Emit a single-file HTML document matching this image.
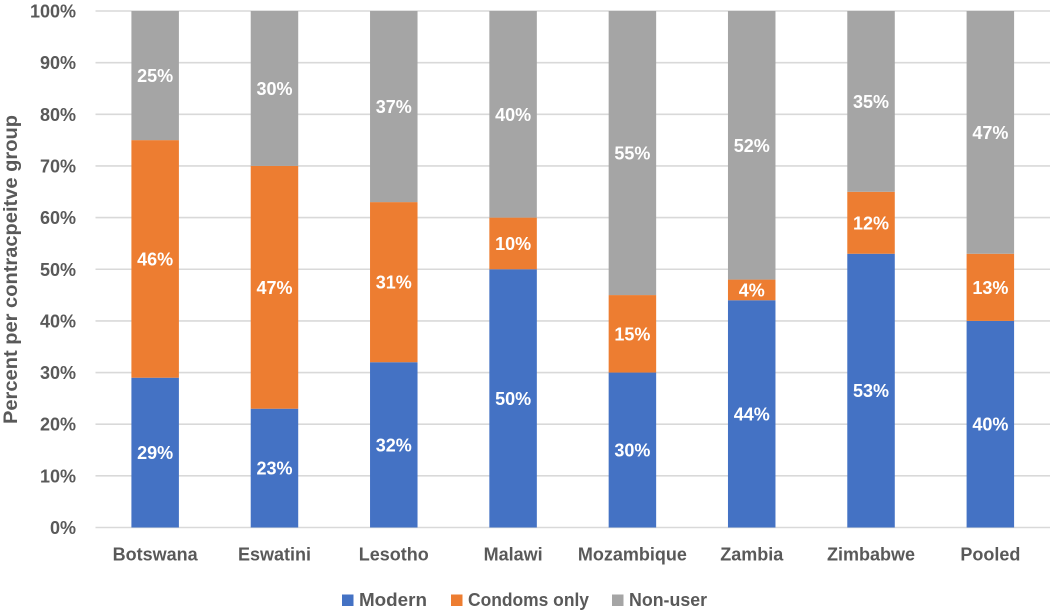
<!DOCTYPE html>
<html lang="en">
<head>
<meta charset="utf-8">
<title>Percent per contraceptive group</title>
<style>
html,body{margin:0;padding:0;background:#fff;width:1052px;height:612px;overflow:hidden}
svg{display:block;font-family:"Liberation Sans",sans-serif;font-weight:bold}
</style>
</head>
<body>
<svg id="chart" width="1052" height="612" viewBox="0 0 1052 612" xmlns="http://www.w3.org/2000/svg"></svg>
<script>
const categories = ["Botswana","Eswatini","Lesotho","Malawi","Mozambique","Zambia","Zimbabwe","Pooled"];
const modern = [29,23,32,50,30,44,53,40];
const condomsOnly = [46,47,31,10,15,4,12,13];
const nonUser = [25,30,37,40,55,52,35,47];
const yTicks = [0,10,20,30,40,50,60,70,80,90,100];
const seriesNames = ["Modern","Condoms only","Non-user"];

const NS = "http://www.w3.org/2000/svg";
const svg = document.getElementById("chart");
const plotLeft = 95.5, plotRight = 1050, plotTop = 11, plotBottom = 527.5, barWidth = 47.5;
const bandWidth = (plotRight - plotLeft) / categories.length;
function xScale(i){ return plotLeft + bandWidth * (i + 0.5); }
function yScale(v){ return plotBottom - (plotBottom - plotTop) * v / 100; }
function make(tag, attrs, text){
  const el = document.createElementNS(NS, tag);
  for (const k in attrs) el.setAttribute(k, attrs[k]);
  if (text !== undefined) el.textContent = text;
  svg.appendChild(el);
  return el;
}
yTicks.forEach(function(t){
  const line = make("line",{x1:plotLeft,x2:plotRight,y1:yScale(t),y2:yScale(t),stroke:"#d9d9d9","stroke-width":1.6});
  
  
  const label = make("text",{x:76,y:yScale(t)+6.5,"text-anchor":"end","font-size":18,fill:"#595959"},t+"%");
  
  
});
const series = [modern, condomsOnly, nonUser];
const colors = ["#4472c4","#ed7d31","#a5a5a5"];
const keys = ["modern","condoms-only","non-user"];
categories.forEach(function(cat,i){
  let base = 0;
  series.forEach(function(values,s){
    const v = values[i];
    const top = base + v;
    const slug = cat.toLowerCase();
    const bar = make("rect",{x:xScale(i)-barWidth/2,y:yScale(top),width:barWidth,height:yScale(base)-yScale(top),fill:colors[s]});
    
    
    const value = make("text",{x:xScale(i),y:yScale(base+v/2)+6.5,"text-anchor":"middle","font-size":18,fill:"#ffffff"},v+"%");
    
    
    base = top;
  });
  const catLabel = make("text",{x:xScale(i),y:560.5,"text-anchor":"middle","font-size":18,fill:"#595959"},cat);
  
  
});
const yTitle = make("text",{transform:"translate(17,269.5) rotate(-90)","text-anchor":"middle","font-size":19.5,fill:"#595959",textLength:309,lengthAdjust:"spacingAndGlyphs"},"Percent per contracpeitve group");



const legendSwatchX = [342,451,612];
const legendTextWidth = [68,121,78];
seriesNames.forEach(function(name,s){
  const swatch = make("rect",{x:legendSwatchX[s],y:594.5,width:11.5,height:11.5,fill:colors[s]});
  
  
  const entry = make("text",{x:legendSwatchX[s]+17,y:606,"font-size":18.5,fill:"#595959",textLength:legendTextWidth[s],lengthAdjust:"spacingAndGlyphs"},name);
  
  
});
</script>
</body>
</html>
